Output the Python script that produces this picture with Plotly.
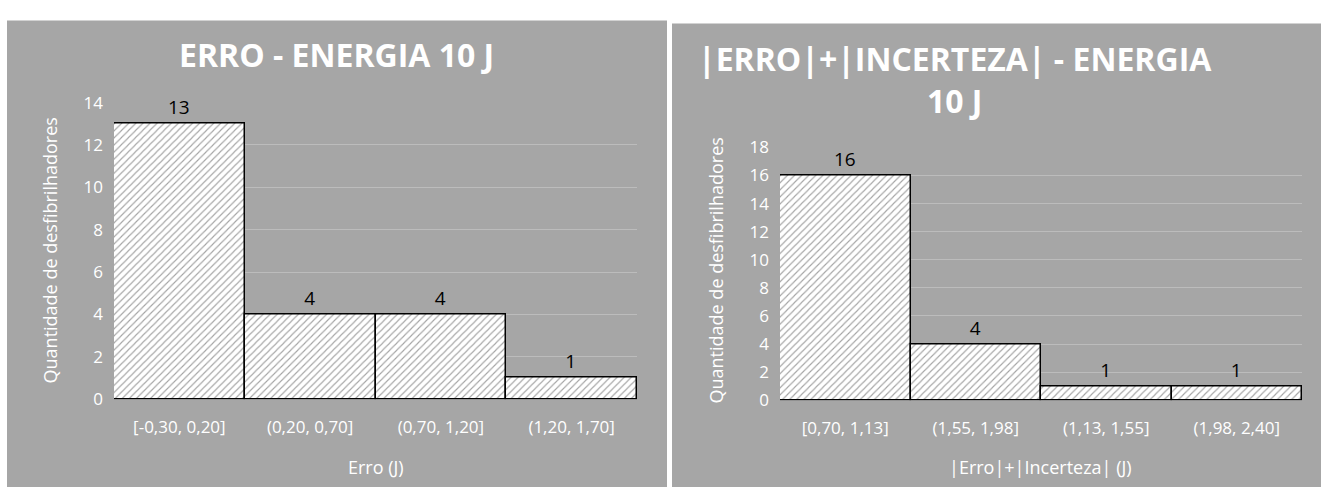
import plotly.graph_objects as go

W, H = 1321, 498

cats_left = ["[-0,30, 0,20]", "(0,20, 0,70]", "(0,70, 1,20]", "(1,20, 1,70]"]
vals_left = [13, 4, 4, 1]
cats_right = ["[0,70, 1,13]", "(1,55, 1,98]", "(1,13, 1,55]", "(1,98, 2,40]"]
vals_right = [16, 4, 1, 1]

title_left = "ERRO - ENERGIA 10 J"
title_right = "|ERRO|+|INCERTEZA| - ENERGIA<br>10 J"
xtitle_left = "Erro (J)"
xtitle_right = "|Erro|+|Incerteza| (J)"
ytitle = "Quantidade de desfibrilhadores"

GRAY = "#a6a6a6"
GRID = "#bcbcbc"
FONT = "Open Sans"

def px(x):
    return x / W

def py(y):
    return 1 - y / H

fig = go.Figure()

pattern = dict(shape="/", fgcolor="#4a4a4a", bgcolor="white", size=5, solidity=0.22)

for cats, vals, xa, ya in [(cats_left, vals_left, "x", "y"), (cats_right, vals_right, "x2", "y2")]:
    fig.add_trace(go.Bar(
        x=cats, y=vals, xaxis=xa, yaxis=ya,
        marker=dict(color="white", pattern=pattern, line=dict(color="black", width=1.5)),
        text=vals, textposition="outside", cliponaxis=False,
        textfont=dict(color="black", size=19, family=FONT),
        showlegend=False, hoverinfo="skip",
    ))

xcommon = dict(showline=False, zeroline=False, ticks="", showgrid=False, ticklabelstandoff=16,
               tickfont=dict(color="white", size=17, family=FONT))
ycommon = dict(showline=False, zeroline=False, ticks="", showgrid=True, gridcolor=GRID, gridwidth=1,
               dtick=2, ticklabelstandoff=10, tickfont=dict(color="white", size=17, family=FONT))

fig.update_layout(
    autosize=True,
    margin=dict(l=0, r=0, t=0, b=0),
    paper_bgcolor="white",
    plot_bgcolor="rgba(0,0,0,0)",
    bargap=0,
    font=dict(family=FONT),
    xaxis=dict(domain=[px(114), px(637)], anchor="y", **xcommon),
    yaxis=dict(domain=[py(406), py(95)], anchor="x", range=[0, 14], **ycommon),
    xaxis2=dict(domain=[px(780), px(1302)], anchor="y2", **xcommon),
    yaxis2=dict(domain=[py(407), py(142)], anchor="x2", range=[0, 18], **ycommon),
)

shapes = [
    dict(type="rect", xref="paper", yref="paper", x0=px(7), x1=px(667), y0=0, y1=py(9),
         fillcolor=GRAY, line=dict(width=0), layer="below"),
    dict(type="rect", xref="paper", yref="paper", x0=px(672), x1=1, y0=0, y1=py(12),
         fillcolor=GRAY, line=dict(width=0), layer="below"),
]
fig.update_layout(shapes=shapes)

annotations = [
    dict(text="<b>" + title_left + "</b>", x=px(336), y=py(45), xref="paper", yref="paper",
         showarrow=False, font=dict(color="white", size=32, family=FONT), xanchor="center", yanchor="middle"),
    dict(text="<b>" + title_right + "</b>", x=px(955), y=py(71), xref="paper", yref="paper",
         showarrow=False, font=dict(color="white", size=32, family=FONT), xanchor="center", yanchor="middle",
         align="center"),
    dict(text=xtitle_left, x=px(376), y=py(477), xref="paper", yref="paper",
         showarrow=False, font=dict(color="white", size=18, family=FONT), xanchor="center", yanchor="middle"),
    dict(text=xtitle_right, x=px(1040), y=py(477), xref="paper", yref="paper",
         showarrow=False, font=dict(color="white", size=18, family=FONT), xanchor="center", yanchor="middle"),
    dict(text=ytitle, x=px(50), y=py(250), xref="paper", yref="paper", textangle=-90,
         showarrow=False, font=dict(color="white", size=18, family=FONT), xanchor="center", yanchor="middle"),
    dict(text=ytitle, x=px(716), y=py(271), xref="paper", yref="paper", textangle=-90,
         showarrow=False, font=dict(color="white", size=18, family=FONT), xanchor="center", yanchor="middle"),
]
fig.update_layout(annotations=annotations)

post = (
    "document.documentElement.style.margin='0';"
    "document.body.style.margin='0';"
    "document.body.style.overflow='hidden';"
    "var gd=document.getElementById('{plot_id}');"
    "Plotly.Plots.resize(gd);"
)

fig.write_html("out.html", config={"displayModeBar": False, "responsive": True},
               default_width="100vw", default_height="100vh", post_script=post)
